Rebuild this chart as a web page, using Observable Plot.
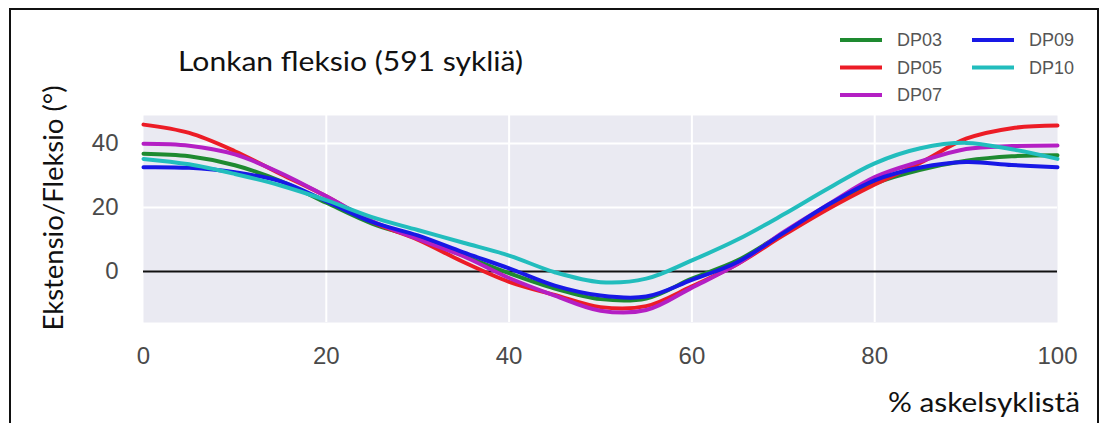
<!DOCTYPE html>
<html>
<head>
<meta charset="utf-8">
<script src="https://cdn.jsdelivr.net/npm/d3@7"></script>
<script src="https://cdn.jsdelivr.net/npm/@observablehq/plot@0.6"></script>
<style>
  body { margin: 0; background: #fff; }
  #chart { position: relative; width: 1108px; height: 423px; overflow: hidden; }
  #chart svg { position: absolute; left: 0; top: 0; }
</style>
</head>
<body>
<div id="chart"></div>
<script>
// Percent of the gait cycle
const pct = [0, 5, 10, 15, 20, 25, 30, 35, 40, 45, 50, 55, 60, 65, 70, 75, 80, 85, 90, 95, 100];

// Mean hip flexion (+) / extension (-) in degrees per subject
const dp03 = [36.8, 36.0, 33.2, 28.3, 21.5, 15.0, 10.5, 5.0, -0.5, -5.3, -8.6, -8.4, -2.2, 3.5, 12.0, 20.5, 27.5, 31.8, 34.6, 36.0, 36.3];
const dp05 = [45.9, 43.3, 37.6, 30.5, 23.5, 15.5, 10.0, 3.0, -3.2, -7.3, -11.1, -10.8, -4.6, 2.4, 11.3, 19.7, 27.2, 34.0, 41.5, 44.8, 45.6];
const dp07 = [39.9, 39.3, 36.6, 30.8, 23.5, 15.8, 10.2, 4.8, -2.0, -7.5, -12.2, -12.0, -5.0, 2.4, 12.3, 21.1, 29.5, 34.4, 38.3, 39.2, 39.4];
const dp09 = [32.6, 32.4, 31.0, 28.2, 22.0, 15.5, 11.3, 6.0, 1.0, -4.4, -7.5, -7.8, -2.6, 3.0, 12.0, 21.0, 28.5, 32.5, 34.2, 33.3, 32.6];
const dp10 = [35.2, 33.5, 30.5, 26.9, 22.3, 17.0, 13.0, 9.0, 5.0, -0.2, -3.3, -2.2, 3.5, 10.0, 17.8, 26.1, 33.8, 38.5, 40.2, 38.2, 35.2];

const subjects = ["DP03", "DP05", "DP07", "DP09", "DP10"];
const seriesValues = [dp03, dp05, dp07, dp09, dp10];
const colors = ["#1e8a30", "#ec1c26", "#b41fc4", "#1818e6", "#22bdbd"];

const xTicks = [0, 20, 40, 60, 80, 100];
const yTicks = [0, 20, 40];

const titleText = "Lonkan fleksio (591 sykliä)";
const yLabel = "Ekstensio/Fleksio (°)";
const xLabel = "% askelsyklistä";

// Long-format table for the line marks
const rows = subjects.flatMap((s, i) => pct.map((p, j) => ({subject: s, pct: p, angle: seriesValues[i][j]})));

const W = 1108, H = 423;

const chart = Plot.plot({
  width: W,
  height: H,
  marginLeft: 143,
  marginRight: 51,
  marginTop: 115,
  marginBottom: 101,
  style: {fontFamily: "'Liberation Sans', Arial, sans-serif", background: "transparent"},
  x: {domain: [0, 100]},
  y: {domain: [-15.9, 48.75]},
  color: {domain: subjects, range: colors},
  marks: [
    Plot.frame({fill: "#eaeaf2", stroke: null}),
    Plot.gridX({ticks: [20, 40, 60, 80], stroke: "#fff", strokeOpacity: 1, strokeWidth: 2}),
    Plot.gridY({ticks: [20, 40], stroke: "#fff", strokeOpacity: 1, strokeWidth: 2}),
    Plot.ruleY([0], {x1: 0, x2: 100, stroke: "#111", strokeWidth: 2}),
    Plot.line(rows, {x: "pct", y: "angle", z: "subject", stroke: "subject", strokeWidth: 4, curve: "catmull-rom"}),
    Plot.axisX({ticks: xTicks, tickSize: 0, tickPadding: 24, fontSize: 24, color: "#4a4a4a", label: null}),
    Plot.axisY({ticks: yTicks, tickSize: 0, tickPadding: 25, fontSize: 24, color: "#4a4a4a", label: null})
  ]
});

const host = document.getElementById("chart");
host.appendChild(chart);

// Annotation layer: frame, title, axis labels and legend
const svg = d3.select(host).append("svg").attr("width", W).attr("height", H);

svg.append("path")
  .attr("d", "M10,423V9H1098V423")
  .attr("fill", "none").attr("stroke", "#111").attr("stroke-width", 2);

const textFont = "Lato, 'Open Sans', sans-serif";

svg.append("text")
  .attr("x", 178).attr("y", 71)
  .attr("textLength", 345).attr("lengthAdjust", "spacingAndGlyphs")
  .attr("font-family", textFont).attr("font-size", 26).attr("fill", "#111")
  .text(titleText);

svg.append("text")
  .attr("transform", "translate(63,208) rotate(-90)")
  .attr("text-anchor", "middle")
  .attr("textLength", 245).attr("lengthAdjust", "spacingAndGlyphs")
  .attr("font-family", textFont).attr("font-size", 26).attr("fill", "#111")
  .text(yLabel);

svg.append("text")
  .attr("x", 888).attr("y", 412)
  .attr("textLength", 192).attr("lengthAdjust", "spacingAndGlyphs")
  .attr("font-family", textFont).attr("font-size", 26).attr("fill", "#111")
  .text(xLabel);

// Legend: two columns, filled column by column
const legendCols = [840, 972];
const legendRows = [40, 67.5, 95];
subjects.forEach((s, i) => {
  const col = Math.floor(i / 3), row = i % 3;
  const x = legendCols[col], y = legendRows[row];
  const g = svg.append("g");
  g.append("line")
    .attr("x1", x).attr("x2", x + 42).attr("y1", y).attr("y2", y)
    .attr("stroke", colors[i]).attr("stroke-width", 4);
  g.append("text")
    .attr("x", x + 57).attr("y", y).attr("dy", "0.36em")
    .attr("font-family", "'Liberation Sans', Arial, sans-serif").attr("font-size", 18).attr("fill", "#555")
    .text(s);
});
</script>
</body>
</html>
